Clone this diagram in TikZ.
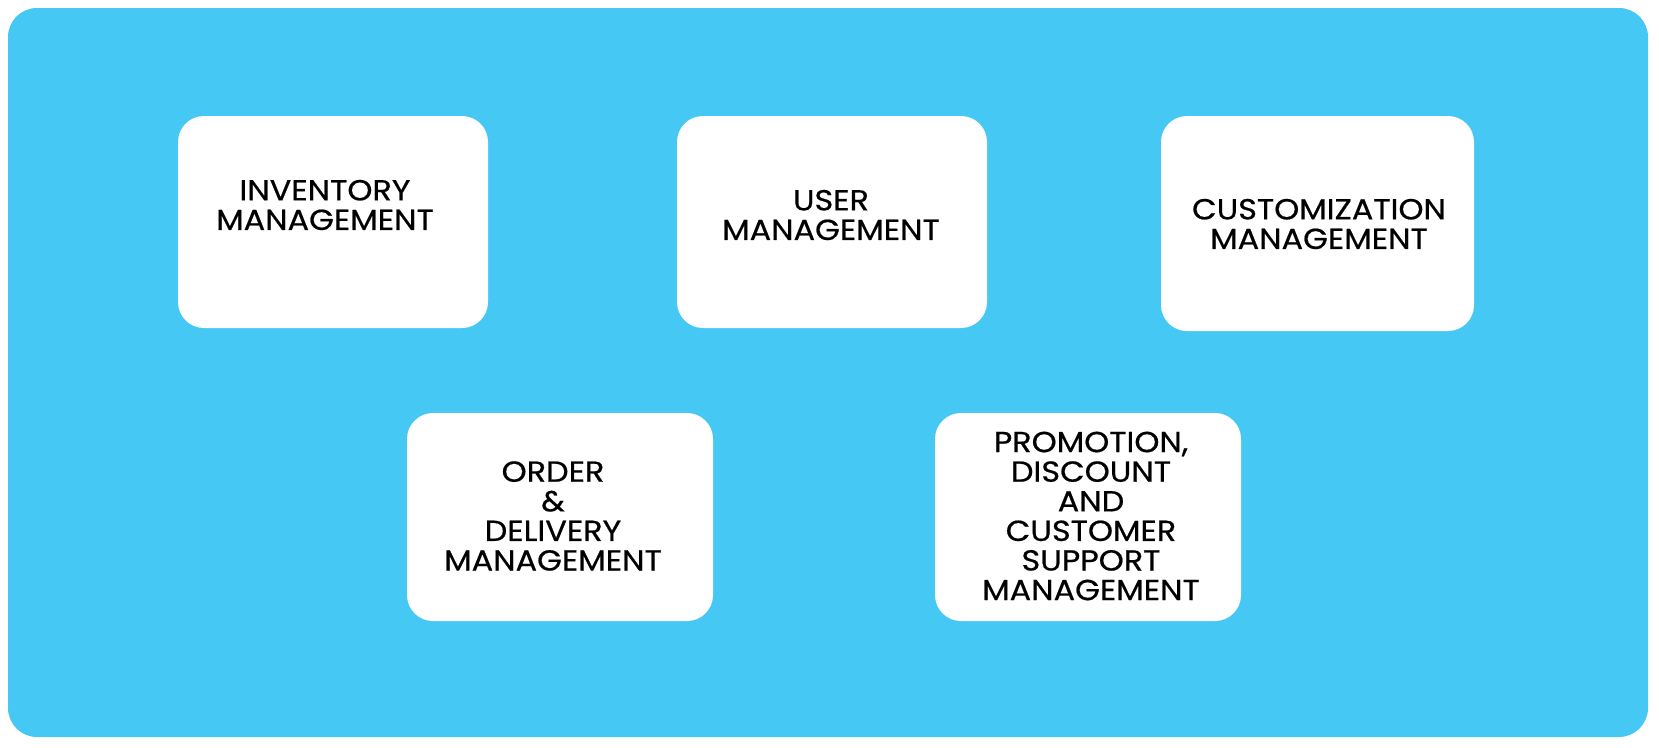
\documentclass[tikz,border=0pt]{standalone}
\usepackage{fontspec}
\setmainfont{Poppins}
\newfontfamily\cardfont[FakeStretch=1.1,FakeBold=0.6]{Poppins}
\definecolor{bgblue}{HTML}{46C8F4}
\begin{document}
\begin{tikzpicture}[x=1pt,y=-1pt,
  panel/.style={fill=bgblue, draw=none, rounded corners=29pt},
  card/.style={fill=white, draw=none, rounded corners=26pt, inner sep=0pt, outer sep=0pt},
  cardtext/.style={align=center, inner sep=0pt, font=\cardfont\fontsize{29}{29.6}\selectfont, text=black}
]
\useasboundingbox (0,0) rectangle (1659,747);
\fill[panel] (8,8) rectangle (1648,737);

\node[card, minimum width=310pt, minimum height=212pt] (inv) at (333,222) {};
\node[card, minimum width=310pt, minimum height=212pt] (usr) at (832,222) {};
\node[card, minimum width=313pt, minimum height=215pt] (cus) at (1317.5,223.5) {};
\node[card, minimum width=306pt, minimum height=208pt] (ord) at (560,517) {};
\node[card, minimum width=306pt, minimum height=208pt] (pro) at (1088,517) {};

\node[cardtext] (invt) at (325,205) {INVENTORY\\MANAGEMENT};
\node[cardtext] (usrt) at (831,215) {USER\\MANAGEMENT};
\node[cardtext] (cust) at (1319,224) {CUSTOMIZATION\\MANAGEMENT};
\node[cardtext] (ordt) at (553,516) {ORDER\\\&\\DELIVERY\\MANAGEMENT};
\node[cardtext] (prot) at (1091,516) {PROMOTION,\\DISCOUNT\\AND\\CUSTOMER\\SUPPORT\\MANAGEMENT};
\end{tikzpicture}
\end{document}
